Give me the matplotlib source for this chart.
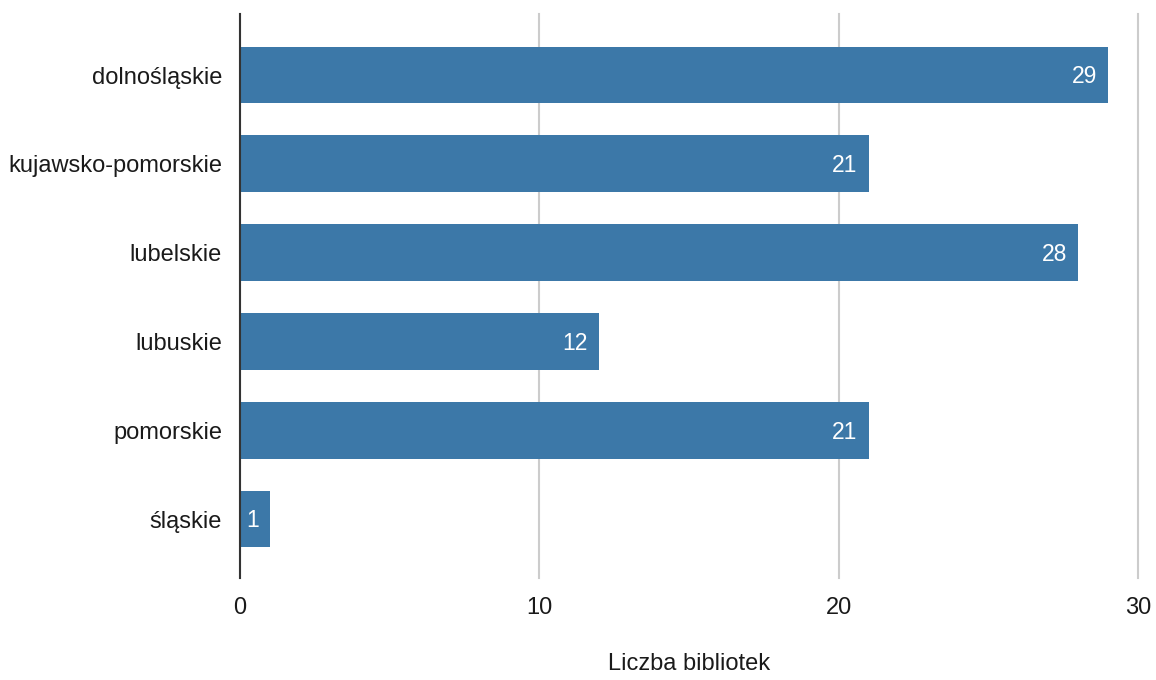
import matplotlib.pyplot as plt

wojewodztwa = ['dolnośląskie', 'kujawsko-pomorskie', 'lubelskie', 'lubuskie', 'pomorskie', 'śląskie']
liczba = [29, 21, 28, 12, 21, 1]
x_ticks = [0, 10, 20, 30]

plt.rcParams['font.family'] = ['Liberation Sans', 'DejaVu Sans']

fig = plt.figure(figsize=(11.56, 6.8), dpi=100)
ax = fig.add_axes([240 / 1156, 1 - 578 / 680, 898 / 1156, 564 / 680])

pos = list(range(len(wojewodztwa)))
ax.barh(pos, liczba, height=0.64, color='#3c78a8', zorder=3)

for p, v in zip(pos, liczba):
    ax.text(v - 0.37, p + 0.02, str(v), color='white', ha='right', va='center',
            fontsize=16.5, zorder=4)

ax.set_xlim(0, 30)
ax.set_ylim(5.664, -0.687)
ax.set_yticks(pos)
ax.set_yticklabels(wojewodztwa, fontsize=17, color='#1a1a1a')
ax.set_xticks(x_ticks)
ax.set_xticklabels([str(t) for t in x_ticks], fontsize=17, color='#1a1a1a')
ax.tick_params(axis='x', length=0, pad=14)
ax.tick_params(axis='y', length=0, pad=13)

ax.grid(axis='x', color='#cccccc', linewidth=1.5, zorder=0)
for line in ax.get_xgridlines():
    line.set_clip_on(False)
for s in ['top', 'right', 'bottom']:
    ax.spines[s].set_visible(False)
ax.spines['left'].set_color('#333333')
ax.spines['left'].set_linewidth(1.5)
ax.spines['left'].set_zorder(5)

ax.set_xlabel('Liczba bibliotek', fontsize=17, color='#1a1a1a', labelpad=24)

fig.savefig('out.png', dpi=100)
